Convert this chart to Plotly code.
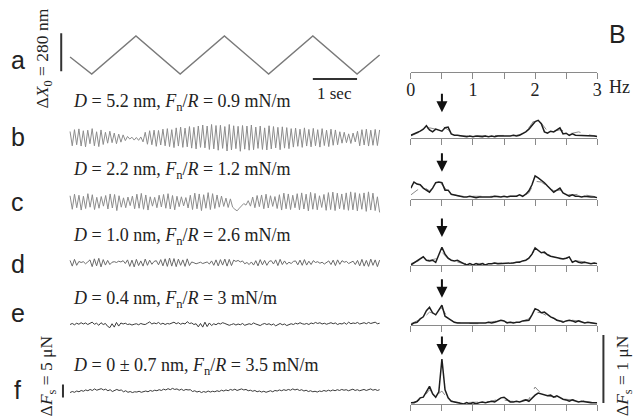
import numpy as np
import plotly.graph_objects as go

W, H = 637, 416

# ---------------- data ----------------
# A: lateral drive (triangle), time in s, displacement in nm
ramp_t = [0.0, 0.49, 1.49, 2.49, 3.49, 4.49, 5.49, 6.49, 7.0]
ramp_nm = [125, 0, 280, 0, 280, 0, 280, 0, 140]
duration_s = 7.0

# friction-force traces (uN), equally spaced samples over duration_s
trace_b = [2.5,-3.0,3.2,-2.6,3.5,-3.1,2.8,-3.4,3.0,-2.2,3.6,-3.0,2.4,-3.3,3.1,-2.5,
           2.2,-2.0,2.6,-1.8,1.9,-2.2,1.5,-1.6,1.2,-1.0,
           0.6,-0.4,0.3,-0.8,0.2,-0.9,0.4,
           -1.5,2.2,-2.4,2.8,-2.6,3.0,-3.2,2.9,-2.7,3.4,-3.0,3.6,-3.3,3.2,-3.7,3.9,-3.1,4.2,-3.6,3.8,-3.4,4.4,-3.9,4.1,-4.2,4.6,-3.6,
           5.0,-3.8,4.6,-4.4,5.2,-4.2,4.8,-4.7,4.9,-4.0,4.4,-5.0,5.2,-4.6,4.7,-4.1,4.5,-5.1,4.8,-4.3,4.6,-4.7,5.0,-4.5,4.2,-4.0,4.6,-4.4,3.9,-4.6,4.7,-4.2,4.4,-3.8,4.1,-4.5,4.3,-3.9,4.0,-4.1,
           3.6,-3.5,3.8,-3.2,3.4,-3.6,3.9,-3.1,3.3,-3.4,3.7,-3.0,3.2,-3.5,3.6,-2.9,3.0,-3.3,3.4,-2.8,3.1,-2.6,2.4,-2.0,2.2,-1.8,1.6,-2.1,1.9,-1.5,
           2.6,-3.0,3.2,-2.7,3.4,-3.1,3.0,-2.8,3.3,-2.9,3.1]
trace_c = [2.4,-2.8,3.0,-2.2,2.6,-3.1,2.2,-2.5,3.2,-2.0,2.8,-2.9,1.8,-2.4,2.1,-1.6,2.5,-2.7,3.1,-2.3,2.9,-3.3,2.4,-2.0,1.6,-2.2,1.9,-1.4,2.3,-2.6,3.0,-2.4,3.3,-2.8,2.7,-3.1,2.0,
           -1.6,1.8,-2.2,2.6,-1.9,2.9,-2.4,3.2,-2.7,2.5,-3.0,2.2,-1.8,2.0,-1.5,1.7,-2.3,2.6,-2.9,3.4,-2.6,3.1,-3.3,2.8,-2.4,3.6,-2.9,3.2,-2.5,2.7,-2.0,2.3,-1.7,1.5,-2.1,1.2,
           -2.0,-2.8,-3.4,-2.4,-1.5,-0.6,-1.2,0.5,
           -1.6,1.9,-2.2,2.5,-1.8,2.7,-2.6,3.0,-2.3,2.4,-1.7,2.1,-2.5,2.8,-3.1,3.4,-2.6,3.1,-2.9,2.6,-2.2,3.2,-3.0,3.5,-2.7,3.0,-3.4,3.7,-2.8,3.3,-3.0,2.4,-2.1,2.9,-3.2,3.6,-2.9,3.8,-3.3,3.4,-2.6,3.1,-2.9,3.5,-3.2,3.9,-3.0,3.6,-3.4,3.2,-2.8,3.5,-3.6,3.9,-3.1,3.4,-3.3,2.0,-4.0]
trace_d = [1.0,-1.2,1.4,-0.9,0.6,0.2,0.5,-0.3,0.4,1.2,-1.4,1.6,-1.1,1.8,-1.5,1.3,-0.8,1.0,-0.6,0.3,0.5,0.2,0.7,0.4,0.9,-0.2,1.2,-1.3,1.1,-1.5,1.4,-1.0,0.8,-1.2,1.5,-0.9,1.1,-0.5,0.6,0.9,
           -0.7,1.3,-1.1,1.6,-1.3,1.9,-1.2,1.7,-1.4,1.5,-0.9,1.2,-1.3,1.6,-1.0,0.4,0.1,-0.3,0.0,0.3,-0.2,0.1,0.4,-0.4,0.8,-0.9,1.2,-1.1,1.3,-0.8,1.5,-1.2,1.4,-1.0,1.1,0.6,1.0,0.4,0.8,-0.3,
           0.2,-0.6,0.4,-0.8,0.9,-1.1,1.3,-0.7,1.0,-0.9,0.6,0.9,-0.4,1.2,-1.0,1.4,-0.6,0.8,-0.5,0.3,-0.2,0.6,0.8,-0.7,1.1,-0.9,1.3,-0.8,0.7,-0.6,0.9,0.2,0.5,-0.1,0.3,-0.4,0.2,0.8,-0.6,1.1,
           -1.0,1.2,-0.5,0.9,0.3,0.6,-0.2,0.4,0.7,-0.6,1.0,-1.1,1.4,-1.2,1.0,-1.3,1.5,-0.9,1.2,-1.4,1.1]
trace_e = [-0.2,0.2,-0.3,0.3,-0.1,0.5,0.0,0.4,-0.2,0.2,0.7,-0.1,0.3,-0.5,0.5,-0.2,0.2,-0.9,-1.4,0.1,-1.2,0.6,-0.8,0.4,0.0,0.3,-0.2,0.0,-0.4,-0.1,
           0.1,-0.3,0.2,-0.1,-0.2,0.3,0.8,0.0,0.4,0.1,0.6,-0.1,0.3,-0.2,0.2,0.0,0.4,0.7,0.1,0.5,-0.1,0.3,0.0,0.9,0.2,0.4,-0.2,0.1,-1.1,0.2,
           -1.2,0.7,-1.0,0.4,-0.6,0.1,-0.3,0.3,0.0,0.5,0.2,-0.1,-0.5,-0.2,0.1,-0.4,0.0,-0.3,0.2,-0.5,-0.1,0.1,-0.2,0.4,0.0,-0.3,-0.6,-0.1,0.2,-0.2,
           0.1,-0.4,0.0,-0.7,-0.2,0.2,-0.3,0.0,-0.6,-0.1,0.1,-0.2,0.3,0.0,0.5,0.1,-0.1,0.2,-0.2,0.4,0.1,0.6,0.2,0.5,0.0,0.3,-0.1,0.2,0.5,0.1,
           0.4,-0.2,0.2,0.0,0.5,-0.1,0.7,0.1,0.4,0.2,0.6,0.0,0.3,0.5,0.1,0.6,0.2,0.4,0.7,0.1,0.3]
trace_f = [-0.6,-0.2,-0.5,0.0,-0.3,0.2,-0.1,0.4,0.1,0.6,0.2,0.8,0.3,0.5,0.9,0.4,0.7,0.1,0.5,-0.2,0.3,0.6,0.2,0.4,-0.3,0.1,-0.5,-0.2,-0.6,-0.3,
           -0.4,-0.1,-0.5,-0.2,0.0,-0.3,0.2,-0.1,0.3,0.1,0.5,0.2,0.7,0.4,0.9,0.5,1.0,0.6,0.8,0.3,0.7,0.2,0.6,0.4,0.5,-0.2,0.1,-0.4,-0.1,-0.6,
           -0.2,-0.5,0.0,-0.4,-0.1,-0.3,0.1,-0.2,0.3,0.0,0.4,0.1,0.6,0.3,0.7,0.2,0.5,0.8,0.4,0.6,0.1,0.3,-0.1,0.2,-0.3,0.0,-0.4,-0.1,-0.5,-0.2,
           0.1,-0.3,0.2,0.0,0.4,0.1,0.5,0.2,0.6,0.3,0.8,0.4,0.7,0.2,0.5,0.0,0.3,-0.2,0.1,-0.3,-0.1,-0.4,0.0,-0.2,0.2,-0.1,0.3,0.0,0.4,0.1,
           0.5,0.2,0.6,0.3,0.5,0.1,0.4,0.7,0.2,0.5,0.1,0.3,0.6,0.2,0.4,0.8,0.3,0.6,0.2,0.5]

# B: spectra (uN) over 0-3 Hz; solid at 0.05 Hz steps, dashed at 0.1 Hz steps
spec_b = [0.04,0.06,0.07,0.10,0.13,0.18,0.12,0.09,0.13,0.12,0.10,0.15,0.16,0.06,0.04,0.04,0.03,0.03,0.02,0.03,
          0.02,0.03,0.02,0.02,0.03,0.02,0.03,0.02,0.03,0.03,0.02,0.03,0.03,0.04,0.03,0.04,0.06,0.09,0.13,0.18,
          0.24,0.26,0.21,0.09,0.07,0.10,0.09,0.12,0.15,0.06,0.07,0.04,0.06,0.04,0.04,0.03,0.04,0.03,0.03,0.03,0.02]
spec_b_dash = [0.03,0.07,0.12,0.15,0.13,0.18,0.12,0.04,0.03,0.03,0.03,0.03,0.03,0.03,0.03,0.03,0.04,0.04,0.06,0.15,
               0.28,0.22,0.10,0.10,0.12,0.09,0.07,0.09,0.06,0.04,0.03]
spec_c = [0.16,0.25,0.22,0.21,0.16,0.13,0.10,0.16,0.24,0.25,0.24,0.13,0.13,0.07,0.06,0.04,0.04,0.03,0.03,0.04,
          0.03,0.02,0.03,0.03,0.02,0.03,0.03,0.04,0.03,0.03,0.04,0.03,0.04,0.04,0.04,0.06,0.04,0.07,0.12,0.21,
          0.34,0.31,0.28,0.24,0.19,0.15,0.10,0.13,0.16,0.09,0.06,0.04,0.06,0.04,0.04,0.03,0.04,0.03,0.03,0.03,0.02]
spec_c_dash = [0.06,0.13,0.18,0.12,0.19,0.22,0.10,0.06,0.04,0.04,0.03,0.03,0.03,0.03,0.04,0.04,0.04,0.04,0.04,0.09,
               0.26,0.25,0.18,0.12,0.13,0.07,0.06,0.07,0.06,0.04,0.03]
spec_d = [0.00,0.03,0.06,0.09,0.12,0.07,0.06,0.07,0.04,0.15,0.26,0.16,0.10,0.07,0.06,0.07,0.04,0.02,0.00,0.02,
          0.00,0.02,0.00,0.02,0.00,0.02,0.02,0.03,0.02,0.02,0.03,0.02,0.03,0.03,0.04,0.04,0.06,0.07,0.10,0.16,
          0.25,0.22,0.18,0.19,0.15,0.13,0.12,0.10,0.09,0.09,0.10,0.12,0.04,0.06,0.04,0.03,0.04,0.03,0.02,0.03,0.02]
spec_d_dash = [0.02,0.06,0.09,0.07,0.09,0.19,0.09,0.06,0.03,0.02,0.02,0.02,0.02,0.02,0.02,0.03,0.03,0.04,0.06,0.10,
               0.22,0.19,0.15,0.12,0.09,0.10,0.07,0.06,0.04,0.03,0.02]
spec_e = [0.00,0.03,0.04,0.09,0.12,0.21,0.26,0.18,0.15,0.22,0.29,0.13,0.10,0.06,0.04,0.03,0.03,0.02,0.03,0.02,
          0.02,0.03,0.02,0.03,0.03,0.04,0.03,0.04,0.06,0.07,0.06,0.03,0.04,0.03,0.04,0.04,0.06,0.06,0.07,0.15,
          0.24,0.22,0.18,0.19,0.15,0.12,0.10,0.07,0.06,0.04,0.06,0.07,0.06,0.04,0.06,0.04,0.03,0.04,0.03,0.03,0.02]
spec_e_dash = [0.02,0.06,0.10,0.19,0.16,0.25,0.10,0.04,0.03,0.03,0.02,0.02,0.03,0.04,0.06,0.04,0.04,0.04,0.06,0.09,
               0.19,0.18,0.13,0.09,0.06,0.06,0.07,0.06,0.04,0.03,0.02]
spec_f = [0.02,0.02,0.04,0.09,0.10,0.19,0.26,0.15,0.10,0.18,0.66,0.21,0.09,0.04,0.03,0.02,0.02,0.00,0.02,0.00,
          0.02,0.00,0.02,0.03,0.02,0.03,0.04,0.03,0.06,0.09,0.10,0.06,0.03,0.03,0.04,0.03,0.04,0.06,0.04,0.09,
          0.13,0.16,0.15,0.13,0.12,0.13,0.10,0.12,0.09,0.07,0.06,0.04,0.06,0.04,0.03,0.04,0.03,0.02,0.02,0.02,0.02]
spec_f_dash = [0.02,0.04,0.09,0.21,0.12,0.19,0.07,0.03,0.02,0.02,0.02,0.02,0.03,0.04,0.07,0.06,0.04,0.04,0.06,0.07,
               0.25,0.15,0.12,0.10,0.09,0.07,0.06,0.07,0.04,0.03,0.02]
drive_freq_hz = 0.5
arrow_tip_uN = [0.38, 0.40, 0.41, 0.40, 0.72]

row_letters = ["b", "c", "d", "e", "f"]
conditions = [
    "<i>D</i> = 5.2 nm, <i>F</i><sub>n</sub>/<i>R</i> = 0.9 mN/m",
    "<i>D</i> = 2.2 nm, <i>F</i><sub>n</sub>/<i>R</i> = 1.2 mN/m",
    "<i>D</i> = 1.0 nm, <i>F</i><sub>n</sub>/<i>R</i> = 2.6 mN/m",
    "<i>D</i> = 0.4 nm, <i>F</i><sub>n</sub>/<i>R</i> = 3 mN/m",
    "<i>D</i> = 0 ± 0.7 nm, <i>F</i><sub>n</sub>/<i>R</i> = 3.5 mN/m",
]
freq_ticks = [0, 0.5, 1, 1.5, 2, 2.5, 3]
freq_ticktext = ["0", "", "1", "", "2", "", "3"]
ramp_bar_nm = 280
time_bar_s = 1
left_bar_uN = 5
right_bar_uN = 1

traces = [trace_b, trace_c, trace_d, trace_e, trace_f]
specs = [spec_b, spec_c, spec_d, spec_e, spec_f]
specs_dash = [spec_b_dash, spec_c_dash, spec_d_dash, spec_e_dash, spec_f_dash]
trace_colors = ["#8c8c8c", "#8c8c8c", "#6a6a6a", "#3a3a3a", "#3a3a3a"]

# ---------------- layout helpers (pixel geometry) ----------------
SERIF = "Liberation Serif, Times New Roman, serif"
SANS = "Liberation Sans, Arial, sans-serif"

def xd(p0, p1):
    return [p0 / W, p1 / W]

def yd(top, bottom):
    return [1 - bottom / H, 1 - top / H]

def ann(text, x, y, size, family=SERIF, angle=0, xanchor="center", color="#222"):
    return dict(text=text, x=x / W, y=1 - y / H, xref="paper", yref="paper",
                showarrow=False, font=dict(size=size, family=family, color=color),
                xanchor=xanchor, yanchor="middle", textangle=angle)

fig = go.Figure()
layout = dict(width=W, height=H, margin=dict(l=0, r=0, t=0, b=0),
              paper_bgcolor="white", plot_bgcolor="rgba(0,0,0,0)",
              showlegend=False, hovermode=False)
hidden = dict(visible=False, showgrid=False, zeroline=False, fixedrange=True)

# time axis geometry
t_px0, t_px1 = 67, 381
px_per_s = (t_px1 - t_px0) / duration_s
left_dom = (50, 385)
left_range = [(left_dom[0] - t_px0) / px_per_s, (left_dom[1] - t_px0) / px_per_s]

# --- panel a (axis 1)
px_per_nm = 38 / 280
ramp_base_px = 74
ydom_a = (20, 100)
layout["xaxis"] = dict(hidden, domain=xd(*left_dom), range=left_range, anchor="y")
layout["yaxis"] = dict(hidden, domain=yd(*ydom_a), anchor="x",
                       range=[-(ydom_a[1] - ramp_base_px) / px_per_nm,
                              (ramp_base_px - ydom_a[0]) / px_per_nm])
fig.add_trace(go.Scatter(x=ramp_t, y=ramp_nm, mode="lines",
                         line=dict(color="#7a7a7a", width=1.4), xaxis="x", yaxis="y"))
shapes = []
shapes.append(dict(type="line", xref="x", yref="y", x0=-0.2, x1=-0.2,
                   y0=20, y1=20 + ramp_bar_nm, line=dict(color="#333", width=2)))
shapes.append(dict(type="line", xref="x", yref="y", x0=5.49, x1=5.49 + time_bar_s,
                   y0=-37, y1=-37, line=dict(color="#333", width=2)))

annotations = []
annotations.append(ann("a", 14, 60, 25, SANS))
annotations.append(ann("Δ<i>X</i><sub>0</sub> = 280 nm", 41, 58, 17.5, angle=-90))
annotations.append(ann("1 sec", 335, 94, 17))

# --- friction traces (axes 2-6)
px_per_uN = 2.6
centers = [138, 202, 263, 324, 391]
text_y = [102, 170, 236, 299, 366]
letter_y = [137, 202, 264, 313, 390]
half = 22
for i in range(5):
    n = i + 2
    layout[f"xaxis{n}"] = dict(hidden, domain=xd(*left_dom), range=left_range, anchor=f"y{n}")
    layout[f"yaxis{n}"] = dict(hidden, domain=yd(centers[i] - half, centers[i] + half),
                               range=[-half / px_per_uN, half / px_per_uN], anchor=f"x{n}")
    vals = traces[i]
    t = np.linspace(0, duration_s, len(vals))
    fig.add_trace(go.Scatter(x=t, y=vals, mode="lines",
                             line=dict(color=trace_colors[i], width=1),
                             xaxis=f"x{n}", yaxis=f"y{n}"))
    annotations.append(ann(conditions[i], 68, text_y[i], 18, xanchor="left"))
    annotations.append(ann(row_letters[i], 14, letter_y[i], 25, SANS))

shapes.append(dict(type="line", xref="x6", yref="y6", x0=-0.16, x1=-0.16,
                   y0=-left_bar_uN / 2, y1=left_bar_uN / 2, line=dict(color="#333", width=2)))
annotations.append(ann("Δ<i>F</i><sub>s</sub> = 5 μN", 44, 376, 17.5, angle=-90))

# --- spectra (axes 7-11)
f_px0, f_px1 = 412.7, 601.7
px_per_uN_spec = 68
spec_h = 75
bases = [138, 199, 265, 325, 404]
for i in range(5):
    n = i + 7
    layout[f"xaxis{n}"] = dict(domain=xd(f_px0, f_px1), range=[0, 3], anchor=f"y{n}",
                               showline=True, linecolor="#8a8a8a", linewidth=1.3,
                               ticks="outside", ticklen=6, tickwidth=1.3, tickcolor="#8a8a8a",
                               tickvals=freq_ticks, showticklabels=False,
                               showgrid=False, zeroline=False, fixedrange=True)
    layout[f"yaxis{n}"] = dict(hidden, domain=yd(bases[i] - spec_h, bases[i]),
                               range=[0, spec_h / px_per_uN_spec], anchor=f"x{n}")
    sd = specs_dash[i]
    fig.add_trace(go.Scatter(x=np.linspace(0, 3, len(sd)), y=sd, mode="lines",
                             line=dict(color="#8a8a8a", width=1, dash="dash"),
                             xaxis=f"x{n}", yaxis=f"y{n}"))
    s = specs[i]
    fig.add_trace(go.Scatter(x=np.linspace(0, 3, len(s)), y=s, mode="lines",
                             line=dict(color="#1e1e1e", width=1.5),
                             xaxis=f"x{n}", yaxis=f"y{n}"))
    annotations.append(dict(x=drive_freq_hz, y=arrow_tip_uN[i], xref=f"x{n}", yref=f"y{n}",
                            text="", showarrow=True, arrowhead=2, arrowsize=1.1,
                            arrowwidth=2, arrowcolor="#111", ax=0, ay=-20, standoff=0))

# --- top frequency axis (axis 12)
layout["xaxis12"] = dict(domain=xd(f_px0, f_px1), range=[0, 3], anchor="y12",
                         showline=True, linecolor="#8a8a8a", linewidth=1.3,
                         ticks="outside", ticklen=6, tickwidth=1.3, tickcolor="#8a8a8a",
                         tickvals=freq_ticks, ticktext=freq_ticktext,
                         tickfont=dict(family=SERIF, size=18, color="#222"),
                         ticklabelstandoff=-5,
                         showgrid=False, zeroline=False, fixedrange=True)
layout["yaxis12"] = dict(hidden, domain=yd(71, 72), range=[0, 1], anchor="x12")
fig.add_trace(go.Scatter(x=[0, 3], y=[None, None], mode="lines", xaxis="x12", yaxis="y12"))
annotations.append(ann("Hz", 624, 87, 18))
annotations.append(ann("B", 622, 34, 25, SANS))

# --- right scale bar (axis 13, same vertical scale as spectrum f)
layout["xaxis13"] = dict(hidden, domain=xd(600, 616), range=[0, 1], anchor="y13")
layout["yaxis13"] = dict(hidden, domain=yd(bases[4] - spec_h, bases[4]),
                         range=[0, spec_h / px_per_uN_spec], anchor="x13")
fig.add_trace(go.Scatter(x=[0.5, 0.5], y=[0.015, 0.015 + right_bar_uN], mode="lines",
                         line=dict(color="#333", width=2), xaxis="x13", yaxis="y13"))
annotations.append(ann("Δ<i>F</i><sub>s</sub> = 1 μN", 628, 376, 17.5, angle=-90))

layout["shapes"] = shapes
layout["annotations"] = annotations
fig.update_layout(**layout)
fig.write_html("out.html", config={"displayModeBar": False},
               post_script="document.body.style.margin='0';document.body.style.overflow='hidden';")
